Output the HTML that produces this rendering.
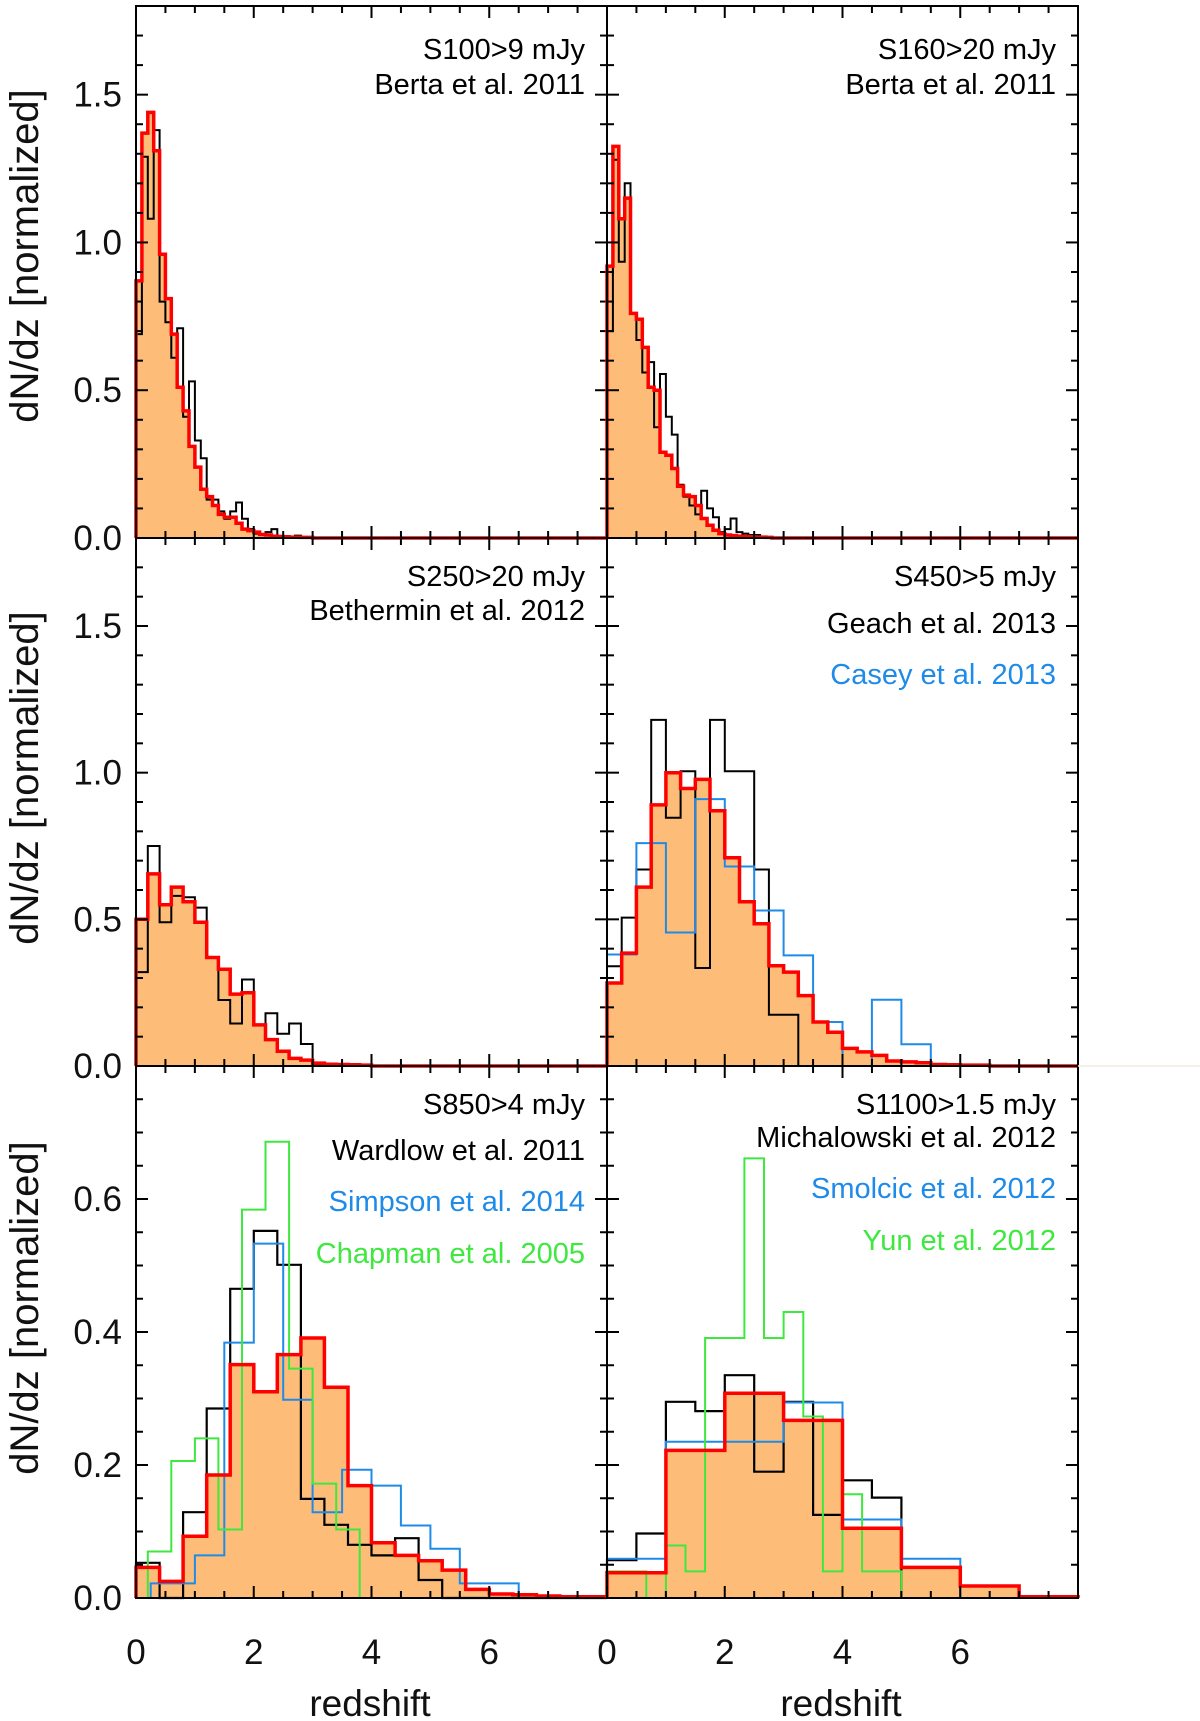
<!DOCTYPE html>
<html><head><meta charset="utf-8">
<style>
html,body{margin:0;padding:0;background:#fff;}
svg{display:block;font-family:"Liberation Sans",Arial,sans-serif;}
</style></head>
<body>
<svg id="chart" width="1200" height="1721" viewBox="0 0 1200 1721"></svg>
<script>
// ---- data ----
const topBinWidth = 0.1;
const s100Model = [0.87,1.37,1.44,1.31,0.96,0.81,0.69,0.51,0.43,0.31,0.24,0.165,0.14,0.11,0.08,0.07,0.07,0.05,0.03,0.025,0.02,0.012,0.01,0.006,0.005,0.004,0.003,0.003,0.002,0.002];
const s100Berta = [0.69,1.29,1.08,1.38,0.80,0.73,0.61,0.71,0.41,0.53,0.33,0.27,0.13,0.13,0.09,0.065,0.09,0.12,0.065,0.03,0.015,0.01,0.02,0.03,0.005,0.005,0.004,0.008,0.003,0.0];
const s160Model = [0.92,1.325,1.08,1.15,0.76,0.74,0.645,0.51,0.50,0.29,0.28,0.235,0.175,0.145,0.14,0.11,0.066,0.043,0.026,0.015,0.01,0.008,0.006,0.005,0.004,0.003,0.003,0.002];
const s160Berta = [0.70,1.28,0.935,1.20,0.76,0.67,0.56,0.595,0.375,0.555,0.41,0.35,0.18,0.14,0.11,0.08,0.16,0.10,0.07,0.02,0.03,0.066,0.02,0.015,0.01,0.01,0.005,0.0];
const midLeftBinWidth = 0.2;
const s250Model = [0.50,0.655,0.55,0.61,0.56,0.49,0.37,0.33,0.245,0.25,0.14,0.09,0.05,0.026,0.02,0.01,0.006,0.005,0.004,0.003];
const s250Bethermin = [0.32,0.75,0.49,0.58,0.575,0.54,0.37,0.225,0.145,0.295,0.14,0.18,0.11,0.145,0.075,0.003,0,0];
const midRightBinWidth = 0.25;
const s450Model = [0.283,0.385,0.61,0.89,1.0,0.946,0.977,0.87,0.71,0.56,0.485,0.342,0.32,0.24,0.15,0.115,0.06,0.048,0.036,0.017,0.014,0.011,0.005,0.004,0.003,0.003];
const s450Geach = [0.34,0.506,0.67,1.18,0.846,1.005,0.334,1.18,1.005,1.005,0.67,0.175,0.175,0,0];
const s450Casey = [0.38,0.38,0.76,0.76,0.455,0.455,0.91,0.91,0.68,0.68,0.53,0.53,0.377,0.377,0.15,0.15,0,0,0.226,0.226,0.074,0.074,0];
const s850BinWidth = 0.4;
const s850Model = [0.046,0.025,0.093,0.185,0.351,0.31,0.366,0.391,0.317,0.169,0.083,0.064,0.056,0.042,0.013,0.006,0.005,0.003,0.002,0.002];
const s850Wardlow = [0.053,0,0.129,0.285,0.465,0.552,0.501,0.149,0.11,0.08,0.064,0.09,0.027,0,0,0,0,0,0,0];
const s850SimpsonEdges = [0.25,1.0,1.5,2.0,2.5,3.0,3.5,4.0,4.5,5.0,5.5,6.5];
const s850Simpson = [0.022,0.064,0.384,0.533,0.298,0.129,0.193,0.169,0.109,0.074,0.022];
const s850ChapmanStart = 0.2;
const s850Chapman = [0.07,0.206,0.24,0.103,0.584,0.686,0.345,0.172,0.103];
const s1100ModelEdges = [0,1,2,3,4,5,6,7,8];
const s1100Model = [0.038,0.222,0.308,0.267,0.105,0.046,0.018,0.002];
const s1100MichalowskiWidth = 0.5;
const s1100Michalowski = [0.057,0.097,0.295,0.281,0.335,0.19,0.295,0.125,0.177,0.151];
const s1100SmolcicEdges = [0,1,3,4,5,6];
const s1100Smolcic = [0.059,0.235,0.294,0.118,0.059];
const s1100YunWidth = 1/3;
const s1100Yun = [0.04,0.04,0,0.079,0.04,0.391,0.391,0.661,0.391,0.43,0.273,0.04,0.156,0.04,0.04];
const xTickLabels = [0,2,4,6];
const yTicksBig = [0,0.5,1.0,1.5];
const yTicksSmall = [0,0.2,0.4,0.6];

// ---- layout ----
const NS="http://www.w3.org/2000/svg";
const svg=document.getElementById('chart');
function mk(tag,attrs,parent){const e=document.createElementNS(NS,tag);for(const k in attrs)e.setAttribute(k,attrs[k]);(parent||svg).appendChild(e);return e;}
const cols=[{x0:136,x1:607},{x0:607,x1:1078}];
const rows=[{y0:6,y1:538,ymax:1.8,major:yTicksBig,minor:0.1},{y0:538,y1:1066,ymax:1.8,major:yTicksBig,minor:0.1},{y0:1066,y1:1598,ymax:0.8,major:yTicksSmall,minor:0.05}];
function uniformEdges(start,w,n){const e=[];for(let i=0;i<=n;i++)e.push(start+i*w);return e;}
function scales(c,r){return {sx:v=>c.x0+v/8*(c.x1-c.x0), sy:v=>r.y1-v/r.ymax*(r.y1-r.y0)};}
function stepPath(edges,vals,s,close){
  let d='M'+s.sx(edges[0]).toFixed(1)+','+s.sy(0).toFixed(1);
  for(let i=0;i<vals.length;i++){
    const y=s.sy(vals[i]).toFixed(1);
    d+=' L'+s.sx(edges[i]).toFixed(1)+','+y+' L'+s.sx(Math.min(edges[i+1],8)).toFixed(1)+','+y;
  }
  d+=' L'+s.sx(Math.min(edges[vals.length],8)).toFixed(1)+','+s.sy(0).toFixed(1);
  if(close)d+=' Z';
  return d;
}
const COL={black:'#000',blue:'#1f8be8',green:'#3ee83e',red:'#ff0000',fill:'#fdbd78'};
const panels=[
 {r:0,c:0,name:'s100',series:[{e:uniformEdges(0,topBinWidth,s100Berta.length),v:s100Berta,col:'black',w:2,n:'berta-2011-hist'}],model:{e:uniformEdges(0,topBinWidth,s100Model.length),v:s100Model,extend:true},labels:[['S100>9 mJy','#000'],['Berta et al. 2011','#000']],ly:[49,84]},
 {r:0,c:1,name:'s160',series:[{e:uniformEdges(0,topBinWidth,s160Berta.length),v:s160Berta,col:'black',w:2,n:'berta-2011-hist'}],model:{e:uniformEdges(0,topBinWidth,s160Model.length),v:s160Model,extend:true},labels:[['S160>20 mJy','#000'],['Berta et al. 2011','#000']],ly:[49,84]},
 {r:1,c:0,name:'s250',series:[{e:uniformEdges(0,midLeftBinWidth,s250Bethermin.length),v:s250Bethermin,col:'black',w:2,n:'bethermin-2012-hist'}],model:{e:uniformEdges(0,midLeftBinWidth,s250Model.length),v:s250Model,extend:true},labels:[['S250>20 mJy','#000'],['Bethermin et al. 2012','#000']],ly:[576,610]},
 {r:1,c:1,name:'s450',series:[{e:uniformEdges(0,midRightBinWidth,s450Geach.length),v:s450Geach,col:'black',w:2,n:'geach-2013-hist'},{e:uniformEdges(0,midRightBinWidth,s450Casey.length),v:s450Casey,col:'blue',w:2,n:'casey-2013-hist'}],model:{e:uniformEdges(0,midRightBinWidth,s450Model.length),v:s450Model,extend:true},labels:[['S450>5 mJy','#000'],['Geach et al. 2013','#000'],['Casey et al. 2013',COL.blue]],ly:[576,623,674]},
 {r:2,c:0,name:'s850',series:[{e:uniformEdges(0,s850BinWidth,s850Wardlow.length),v:s850Wardlow,col:'black',w:2.2,n:'wardlow-2011-hist'},{e:s850SimpsonEdges,v:s850Simpson,col:'blue',w:2,n:'simpson-2014-hist'},{e:uniformEdges(s850ChapmanStart,s850BinWidth,s850Chapman.length),v:s850Chapman,col:'green',w:2,n:'chapman-2005-hist'}],model:{e:uniformEdges(0,s850BinWidth,s850Model.length),v:s850Model,extend:true},labels:[['S850>4 mJy','#000'],['Wardlow et al. 2011','#000'],['Simpson et al. 2014',COL.blue],['Chapman et al. 2005',COL.green]],ly:[1104,1150,1201,1253]},
 {r:2,c:1,name:'s1100',series:[{e:uniformEdges(0,s1100MichalowskiWidth,s1100Michalowski.length),v:s1100Michalowski,col:'black',w:2.2,n:'michalowski-2012-hist'},{e:s1100SmolcicEdges,v:s1100Smolcic,col:'blue',w:2,n:'smolcic-2012-hist'},{e:uniformEdges(0,s1100YunWidth,s1100Yun.length),v:s1100Yun,col:'green',w:2,n:'yun-2012-hist'}],model:{e:s1100ModelEdges,v:s1100Model,extend:false},labels:[['S1100>1.5 mJy','#000'],['Michalowski et al. 2012','#000'],['Smolcic et al. 2012',COL.blue],['Yun et al. 2012',COL.green]],ly:[1104,1137,1188,1240]}
];

panels.forEach(p=>{
  const c=cols[p.c], r=rows[p.r], s=scales(c,r);
  const g=mk('g',{});
  
  
  const f=mk('path',{d:stepPath(p.model.e,p.model.v,s,true),fill:COL.fill,stroke:'none'},g);
  
  
  p.series.forEach(se=>{
    const pa=mk('path',{d:stepPath(se.e,se.v,s,false),fill:'none',stroke:COL[se.col],'stroke-width':se.w,'stroke-linejoin':'miter'},g);
    
    
  });
  const rp=mk('path',{d:stepPath(p.model.e,p.model.v,s,false)+(p.model.extend?' L'+s.sx(8)+','+s.sy(0):''),fill:'none',stroke:COL.red,'stroke-width':3.5},g);
  
  
  const fr=mk('rect',{x:c.x0,y:r.y0,width:c.x1-c.x0,height:r.y1-r.y0,fill:'none',stroke:'#000','stroke-width':2},g);
  
  
  for(let k=0;k<=16;k++){
    const v=k*0.5, x=s.sx(v), L=(k%4===0)?12:7;
    mk('line',{x1:x,y1:r.y1,x2:x,y2:r.y1-L,stroke:'#000','stroke-width':2},g);
    mk('line',{x1:x,y1:r.y0,x2:x,y2:r.y0+L,stroke:'#000','stroke-width':2},g);
  }
  const nMinor=Math.round(r.ymax/r.minor);
  for(let k=0;k<=nMinor;k++){
    const v=k*r.minor, y=s.sy(v);
    const isMaj=r.major.some(m=>Math.abs(m-v)<1e-6);
    const L=isMaj?12:7;
    mk('line',{x1:c.x0,y1:y,x2:c.x0+L,y2:y,stroke:'#000','stroke-width':2},g);
    mk('line',{x1:c.x1,y1:y,x2:c.x1-L,y2:y,stroke:'#000','stroke-width':2},g);
  }
  if(p.c===0){
    r.major.forEach(m=>{
      const t=mk('text',{x:122,y:s.sy(m)+12,'text-anchor':'end','font-size':35,fill:'#111'},svg);
      t.textContent=m.toFixed(1);
      
      
    });
  }
  if(p.r===2){
    xTickLabels.forEach(v=>{
      const t=mk('text',{x:s.sx(v),y:1664,'text-anchor':'middle','font-size':35,fill:'#111'},svg);
      t.textContent=String(v);
      
      
    });
  }
  p.labels.forEach((lb,i)=>{
    const t=mk('text',{x:c.x1-22,y:p.ly[i]+10,'text-anchor':'end','font-size':29,fill:lb[1]},svg);
    t.textContent=lb[0];
    
    
  });
});
mk('line',{x1:1078,y1:1066,x2:1200,y2:1066,stroke:'#f3ece2','stroke-width':1.5});
[256,778,1308].forEach(cy=>{
  const t=mk('text',{x:0,y:0,transform:'translate(38,'+cy+') rotate(-90)','text-anchor':'middle','font-size':40,fill:'#111'});
  t.textContent='dN/dz [normalized]';
  
  
});
[370,841].forEach(cx=>{
  const t=mk('text',{x:cx,y:1716,'text-anchor':'middle','font-size':37,fill:'#111'});
  t.textContent='redshift';
  
  
});
</script>
</body></html>
